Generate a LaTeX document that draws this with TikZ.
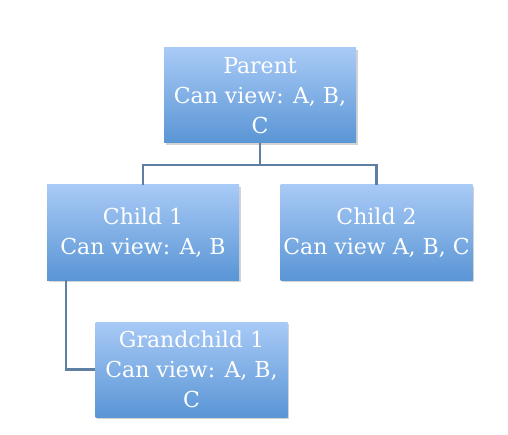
\documentclass[tikz,border=0pt]{standalone}
\usepackage{fontspec}
\setmainfont{DejaVu Serif}
\usepackage{tikz}
\usetikzlibrary{positioning,calc,shadows}

\definecolor{boxtop}{HTML}{A8CAF6}
\definecolor{boxbot}{HTML}{5A95D5}
\definecolor{linkcol}{HTML}{5E7FA2}

\tikzset{
    rolebox/.style={rectangle, minimum width=192pt, minimum height=95pt,
        inner xsep=1pt, top color=boxtop, bottom color=boxbot, draw=none,
        drop shadow={shadow xshift=1.5pt, shadow yshift=-2pt, opacity=0.35},
        text=white, align=center, font=\fontsize{22}{30}\selectfont},
    link/.style={draw=linkcol, line width=2.4pt}
}

\begin{document}
\begin{tikzpicture}[x=1pt, y=1pt]
    \useasboundingbox (0,0) rectangle (508,434);

    % boxes
    \node[rolebox] (parent) at (260,338.5) {Parent\\Can view: A, B,\\C};
    \node[rolebox] (child1) at (143,201.5) {Child 1\\Can view: A, B};
    \node[rolebox] (child2) at (376.5,201.5) {Child 2\\Can view A, B, C};
    \node[rolebox] (grand1) at (191.5,64.5) {Grandchild 1\\Can view: A, B,\\C};

    % links
    \draw[link] (parent.south) -- ++(0,-22) -| (child1.north);
    \draw[link] (parent.south) -- ++(0,-22) -| (child2.north);
    \draw[link] ($(child1.south west)+(19,0)$) |- (grand1.west);
\end{tikzpicture}
\end{document}
